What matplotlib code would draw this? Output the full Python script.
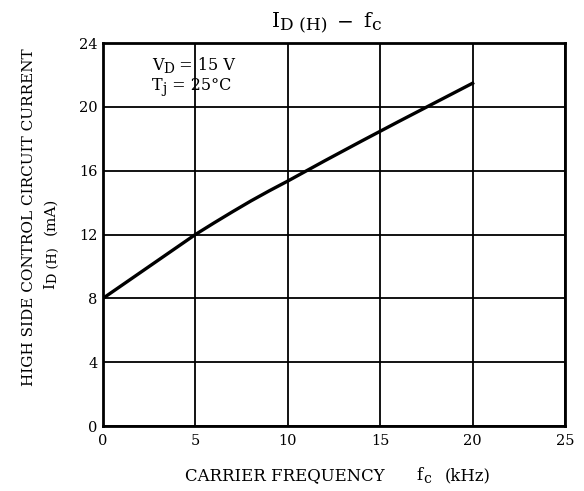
import matplotlib
matplotlib.use("Agg")
import matplotlib.pyplot as plt
from matplotlib.transforms import offset_copy

# carrier frequency (kHz) vs high side control circuit current (mA)
freq = [0, 1, 2, 3, 4, 5, 6, 7, 8, 9, 10, 12, 14, 16, 18, 20]
current = [8.0, 8.8, 9.6, 10.4, 11.2, 12.0, 12.72, 13.42, 14.1, 14.74,
           15.35, 16.62, 17.86, 19.08, 20.28, 21.48]

xticks = [0, 5, 10, 15, 20, 25]
yticks = [0, 4, 8, 12, 16, 20, 24]

plt.rcParams['font.family'] = 'DejaVu Serif'

W, H = 584, 491
fig = plt.figure(figsize=(W / 100, H / 100), dpi=100)
ax = fig.add_axes([103 / W, 1 - 426 / H, 462 / W, 383 / H])


def rich(x, y, parts, size, rotation=0, ha='left'):
    # parts: (text, scale, drop in px) or a number = gap in px
    # x, y are pixel coords (from top-left) of the baseline start
    r = fig.canvas.get_renderer()
    items = []
    for p in parts:
        if isinstance(p, (int, float)):
            items.append((None, p, 0))
            continue
        s, sc, drop = p
        t = fig.text(0, 0, s, fontsize=size * sc, rotation=rotation,
                     rotation_mode='anchor', ha='left', va='baseline')
        bb = t.get_window_extent(r)
        w = bb.height if rotation == 90 else bb.width
        items.append((t, w, drop))
    total = sum(w for _, w, _ in items)
    pos = {'left': 0, 'center': -total / 2}[ha]
    for t, w, drop in items:
        if t is not None:
            if rotation == 90:
                tr = offset_copy(fig.transFigure, fig=fig, x=drop, y=pos, units='dots')
            else:
                tr = offset_copy(fig.transFigure, fig=fig, x=pos, y=-drop, units='dots')
            t.set_position((x / W, 1 - y / H))
            t.set_transform(tr)
        pos += w


ax.plot(freq, current, color='black', lw=2.4)

ax.set_xlim(0, 25)
ax.set_ylim(0, 24)
ax.set_xticks(xticks)
ax.set_yticks(yticks)
ax.grid(True, color='black', lw=1.3)
ax.tick_params(length=0, labelsize=10.5)
ax.tick_params(axis='x', pad=6)
ax.tick_params(axis='y', pad=4)
for s in ax.spines.values():
    s.set_linewidth(2)

# title
rich(326, 27, [('I', 1, 0), ('D (H)', 0.85, 3), 10, ('\u2212', 1, 0), 9,
               ('f', 1, 0), ('c', 0.85, 3)], 14.5, ha='center')

# x label
rich(185, 480, [('CARRIER FREQUENCY', 1, 0), 32, ('f', 1, 0), ('c', 0.85, 3),
                14, ('(kHz)', 1, 0)], 11.9)

# y label
fig.text(29 / W, 1 - 217 / H, 'HIGH SIDE CONTROL CIRCUIT CURRENT', rotation=90,
         ha='center', va='center', fontsize=11)
rich(54, 289, [('I', 1, 0), ('D (H)', 0.85, 3), 12, ('(mA)', 1, 0)], 11,
     rotation=90)

# conditions
rich(152, 70, [('V', 1, 0), ('D', 0.85, 3), (' = 15 V', 1, 0)], 11.5)
rich(152, 90, [('T', 1, 0), ('j', 0.85, 3), (' = 25\u00b0C', 1, 0)], 11.5)

fig.savefig('out.png', dpi=100)
